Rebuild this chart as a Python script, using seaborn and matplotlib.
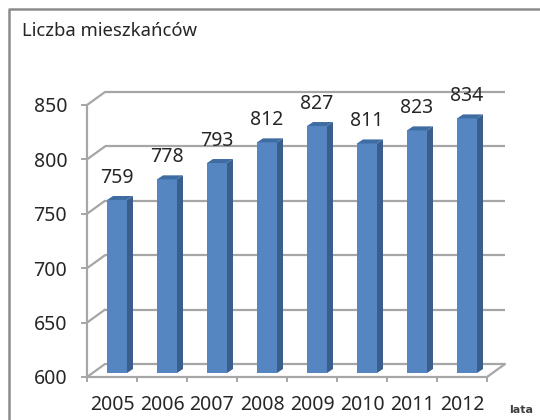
import matplotlib
matplotlib.use("Agg")
import matplotlib.pyplot as plt
from matplotlib.lines import Line2D
from matplotlib.patches import Polygon
from matplotlib.transforms import Affine2D
import seaborn as sns

years = ["2005", "2006", "2007", "2008", "2009", "2010", "2011", "2012"]
values = [759, 778, 793, 812, 827, 811, 823, 834]
yticks = [600, 650, 700, 750, 800, 850]
title_text = "Liczba mieszkańców"
xlabel_text = "lata"

W, H = 540, 420
GRAY = "#a6a6a6"
TXT = "#262626"
FONT = "Noto Sans"

sns.set_theme(style="white")
plt.rcParams["font.family"] = [FONT, "DejaVu Sans"]

fig = plt.figure(figsize=(W / 100, H / 100), dpi=100, facecolor="white")
L, R, T, B = 87, 487, 105, 377
ax = fig.add_axes([L / W, 1 - B / H, (R - L) / W, (B - T) / H])
ax.patch.set_alpha(0)

sns.barplot(x=years, y=values, width=0.4, color="#5586c1", saturation=1,
            ax=ax, zorder=3, linewidth=0)
ax.set_xlim(-0.5, 7.5)
ax.set_ylim(600, 850)
ax.set_yticks(yticks)
ax.set_xlabel("")
ax.set_ylabel("")

# pseudo-3D offsets in display pixels
back = Affine2D().translate(18, 13)
mid = Affine2D().translate(5, 4)
depth_x, depth_y = 6, 4
to_back = ax.transData + back
to_mid = ax.transData + mid

# walls
for v in yticks:
    ax.plot([-0.5, 7.5], [v, v], color=GRAY, lw=1.6, transform=to_back,
            clip_on=False, zorder=1, solid_capstyle="butt")
    p0 = ax.transData.transform((-0.5, v))
    fig.add_artist(Line2D([p0[0] / W, (p0[0] + 18) / W], [p0[1] / H, (p0[1] + 13) / H],
                          color=GRAY, lw=1.6, zorder=1))
pr = ax.transData.transform((7.5, 600))
fig.add_artist(Line2D([pr[0] / W, (pr[0] + 18) / W], [pr[1] / H, (pr[1] + 13) / H],
                      color=GRAY, lw=1.6, zorder=1))

# bars: rest them on the axis floor, shift front faces, add side and top faces
for bar, v in zip(list(ax.patches), values):
    x0, x1 = bar.get_x(), bar.get_x() + bar.get_width()
    bar.set_y(yticks[0])
    bar.set_height(v - yticks[0])
    bar.set_transform(to_mid)
    bar.set_clip_on(False)
    (px0, py0), (px1, py1) = to_mid.transform([(x0, yticks[0]), (x1, v)])
    side = [(px1, py0), (px1 + depth_x, py0 + depth_y), (px1 + depth_x, py1 + depth_y), (px1, py1)]
    top = [(px0, py1), (px0 + depth_x, py1 + depth_y), (px1 + depth_x, py1 + depth_y), (px1, py1)]
    ax.add_patch(Polygon(side, closed=True, transform=None, fc="#3a5f8c", ec="none", zorder=3, clip_on=False))
    ax.add_patch(Polygon(top, closed=True, transform=None, fc="#3f6ca3", ec="none", zorder=3, clip_on=False))
    ax.annotate(str(v), xy=((px0 + px1) / 2 - 0.5, py1), xycoords="figure pixels",
                xytext=(0, 22 * 0.72), textcoords="offset points", ha="center", va="center",
                fontsize=14, color=TXT, annotation_clip=False, zorder=4)

sns.despine(ax=ax, top=True, right=True)
for s in ("left", "bottom"):
    ax.spines[s].set_color(GRAY)
    ax.spines[s].set_linewidth(1.6)
ax.tick_params(axis="y", which="major", length=4.3, width=1.4, color=GRAY,
               labelcolor=TXT, labelsize=14, left=True, pad=10)
ax.tick_params(axis="x", which="major", length=0, labelcolor=TXT, labelsize=14, pad=13)
ax.set_xticks([i - 0.5 for i in range(9)], minor=True)
ax.tick_params(axis="x", which="minor", length=3.6, width=1.4, color=GRAY, bottom=True)

# outer chart frame (left and top edges only) and free texts
fig.add_artist(Line2D([8.5 / W, 8.5 / W, 1], [0, 1 - 8.5 / H, 1 - 8.5 / H],
                      color="#8c8c8c", lw=1.8))
fig.text(22 / W, 1 - 30.5 / H, title_text, fontsize=13.3, color=TXT, ha="left", va="center")
fig.text(509 / W, 1 - 410 / H, xlabel_text, fontsize=8, fontweight="bold", family="DejaVu Sans",
         color="#404040", ha="left", va="center")

fig.savefig("out.png", dpi=100, facecolor="white")
